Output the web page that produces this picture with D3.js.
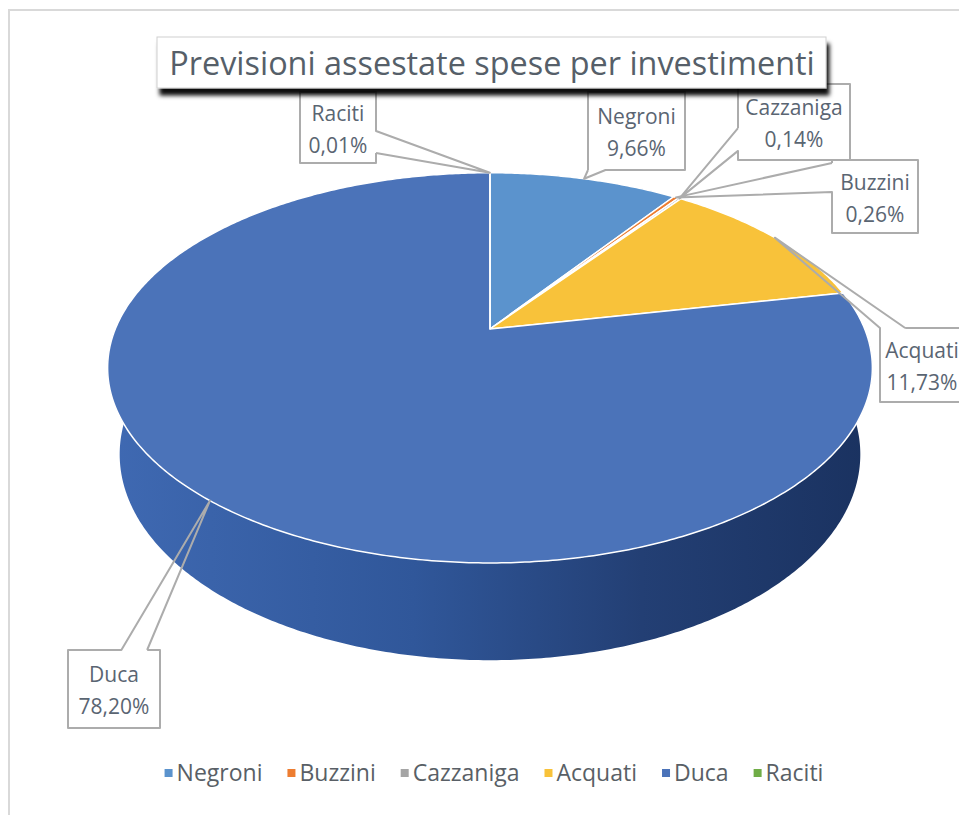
<!DOCTYPE html>
<html>
<head>
<meta charset="utf-8">
<script src="https://cdn.jsdelivr.net/npm/d3@7"></script>
<style>
body { margin: 0; background: #fff; }
text { font-family: "Open Sans", "Noto Sans", sans-serif; }
</style>
</head>
<body>
<script>
// dati del grafico
var title = "Previsioni assestate spese per investimenti";
var names = ["Negroni", "Buzzini", "Cazzaniga", "Acquati", "Duca", "Raciti"];
var values = [9.66, 0.26, 0.14, 11.73, 78.20, 0.01];
var colors = ["#5b93cd", "#ed7d31", "#a5a5a5", "#f8c23a", "#4b73b9", "#70ad47"];

// posizione delle etichette (box + base del cuneo sul lato indicato)
var labelBoxes = [
    {x: 588, y: 92, w: 97, h: 78, side: "bottom", a: 0.0, b: 0.18},
    {x: 832, y: 160, w: 86, h: 73, side: "left", a: 0.04, b: 0.44},
    {x: 738, y: 84, w: 112, h: 76, side: "left", a: 0.58, b: 0.88},
    {x: 880, y: 328, w: 84, h: 74, side: "top", a: 0.0, b: 0.3},
    {x: 68, y: 650, w: 92, h: 78, side: "top", a: 0.58, b: 0.86},
    {x: 300, y: 92, w: 76, h: 71, side: "right", a: 0.55, b: 0.86}
];

var width = 959, height = 815;

// torta 3D: proiezione prospettica di un cilindro
var cx = 490, cy = 329, focal = 1630, dist = 4.35, depth = 0.272;
var tilt = 30 * Math.PI / 180;
var sinA = Math.sin(tilt), cosA = Math.cos(tilt);

function project(theta, h) {
    var X = Math.sin(theta), Y = Math.cos(theta);
    var v = Y * sinA + h * cosA,
        z = dist + Y * cosA - h * sinA;
    return [cx + focal * X / z, cy - focal * v / z];
}

function arcPoints(a0, a1, h) {
    var n = Math.max(2, Math.ceil((a1 - a0) / 0.01));
    return d3.range(n + 1).map(function(i) { return project(a0 + (a1 - a0) * i / n, h); });
}

var line = d3.line();
var fmt = d3.formatLocale({decimal: ",", thousands: ".", grouping: [3], currency: ["", "€"]}).format(".2f");

var svg = d3.select("body").append("svg")
    .attr("width", width)
    .attr("height", height);

var defs = svg.append("defs");

var grad = defs.append("linearGradient")
    .attr("id", "side")
    .attr("gradientUnits", "userSpaceOnUse")
    .attr("x1", 110).attr("x2", 870).attr("y1", 0).attr("y2", 0);
grad.selectAll("stop")
    .data([[0, "#3f69b2"], [0.4, "#30579a"], [0.7, "#233f74"], [1, "#1a3260"]])
    .enter().append("stop")
    .attr("offset", function(d) { return d[0]; })
    .attr("stop-color", function(d) { return d[1]; });

var filter = defs.append("filter")
    .attr("id", "shadow")
    .attr("x", "-5%").attr("y", "-20%").attr("width", "115%").attr("height", "170%");
filter.append("feGaussianBlur").attr("in", "SourceAlpha").attr("stdDeviation", 2);
filter.append("feOffset").attr("dx", 3).attr("dy", 7).attr("result", "off");
filter.append("feFlood").attr("flood-color", "#000").attr("flood-opacity", 0.95);
filter.append("feComposite").attr("in2", "off").attr("operator", "in");
var merge = filter.append("feMerge");
merge.append("feMergeNode");
merge.append("feMergeNode").attr("in", "SourceGraphic");

// cornice esterna
svg.append("rect")
    .attr("x", 9).attr("y", 10)
    .attr("width", 1000).attr("height", 1000)
    .attr("fill", "#fff")
    .attr("stroke", "#d9d9d9")
    .attr("stroke-width", 2);

var data = names.map(function(n, i) { return {name: n, value: values[i], color: colors[i]}; });
var arcs = d3.pie().sort(null).value(function(d) { return d.value; })(data);

// fianco visibile (metà anteriore)
var gPie = svg.append("g");
arcs.forEach(function(d) {
    var a0 = Math.max(d.startAngle, Math.PI / 2),
        a1 = Math.min(d.endAngle, Math.PI * 1.5);
    if (a1 <= a0) return;
    var pts = arcPoints(a0, a1, 0).concat(arcPoints(a0, a1, -depth).reverse());
    gPie.append("path")
        .attr("d", line(pts) + "Z")
        .attr("fill", d.data.name === "Duca" ? "url(#side)" : d3.color(d.data.color).darker(0.8));
});

// faccia superiore
gPie.selectAll("path.top")
    .data(arcs)
    .enter().append("path")
    .attr("class", "top")
    .attr("d", function(d) {
        return line([[cx, cy]].concat(arcPoints(d.startAngle, d.endAngle, 0))) + "Z";
    })
    .attr("fill", function(d) { return d.data.color; })
    .attr("stroke", "#fff")
    .attr("stroke-width", 1.5)
    .attr("stroke-linejoin", "round");

// etichette con cuneo
function calloutPath(b, tip) {
    var x0 = b.x, y0 = b.y, x1 = b.x + b.w, y1 = b.y + b.h, pts, pa, pb;
    if (b.side === "top") {
        pa = [x0 + b.a * b.w, y0]; pb = [x0 + b.b * b.w, y0];
        pts = [pb, [x1, y0], [x1, y1], [x0, y1], [x0, y0], pa, tip, pb];
    } else if (b.side === "right") {
        pa = [x1, y0 + b.a * b.h]; pb = [x1, y0 + b.b * b.h];
        pts = [pb, [x1, y1], [x0, y1], [x0, y0], [x1, y0], pa, tip, pb];
    } else if (b.side === "bottom") {
        pa = [x0 + b.a * b.w, y1]; pb = [x0 + b.b * b.w, y1];
        pts = [pa, [x0, y1], [x0, y0], [x1, y0], [x1, y1], pb, tip, pa];
    } else {
        pa = [x0, y0 + b.a * b.h]; pb = [x0, y0 + b.b * b.h];
        pts = [pa, [x0, y0], [x1, y0], [x1, y1], [x0, y1], pb, tip, pa];
    }
    return line(pts);
}

var gLabels = svg.append("g");
arcs.forEach(function(d, i) {
    var b = labelBoxes[i];
    var tip = project((d.startAngle + d.endAngle) / 2, 0);
    var g = gLabels.append("g");
    g.append("rect")
        .attr("x", b.x).attr("y", b.y)
        .attr("width", b.w).attr("height", b.h)
        .attr("fill", "#fff");
    g.append("path")
        .attr("d", calloutPath(b, tip))
        .attr("fill", "none")
        .attr("stroke", "#acacac")
        .attr("stroke-width", 2)
        .attr("stroke-linejoin", "round");
    var mx = b.x + b.w / 2, my = b.y + b.h / 2;
    g.append("text")
        .attr("x", mx).attr("y", my - 7)
        .attr("text-anchor", "middle")
        .attr("font-size", 21)
        .attr("fill", "#5a6572")
        .text(d.data.name);
    g.append("text")
        .attr("x", mx).attr("y", my + 25)
        .attr("text-anchor", "middle")
        .attr("font-size", 21)
        .attr("fill", "#5a6572")
        .text(fmt(d.data.value) + "%");
});

// legenda
var legend = svg.append("g");
var lx = 0, gap = 25;
data.forEach(function(d) {
    var item = legend.append("g").attr("transform", "translate(" + lx + ",0)");
    item.append("rect")
        .attr("x", 0).attr("y", -4)
        .attr("width", 8).attr("height", 8)
        .attr("fill", d.color);
    var t = item.append("text")
        .attr("x", 12).attr("y", 8)
        .attr("font-size", 23)
        .attr("fill", "#595f66")
        .text(d.name);
    lx += 12 + t.node().getComputedTextLength() + gap;
});
lx -= gap;
legend.attr("transform", "translate(" + (494 - lx / 2) + ",773)");

// titolo
var gTitle = svg.append("g");
gTitle.append("rect")
    .attr("x", 157).attr("y", 37)
    .attr("width", 669).attr("height", 51)
    .attr("fill", "#fff")
    .attr("stroke", "#d0d0d0")
    .attr("stroke-width", 1)
    .attr("filter", "url(#shadow)");
gTitle.append("text")
    .attr("x", 492).attr("y", 75)
    .attr("text-anchor", "middle")
    .attr("font-size", 32.4)
    .attr("fill", "#565f69")
    .text(title);
</script>
</body>
</html>
